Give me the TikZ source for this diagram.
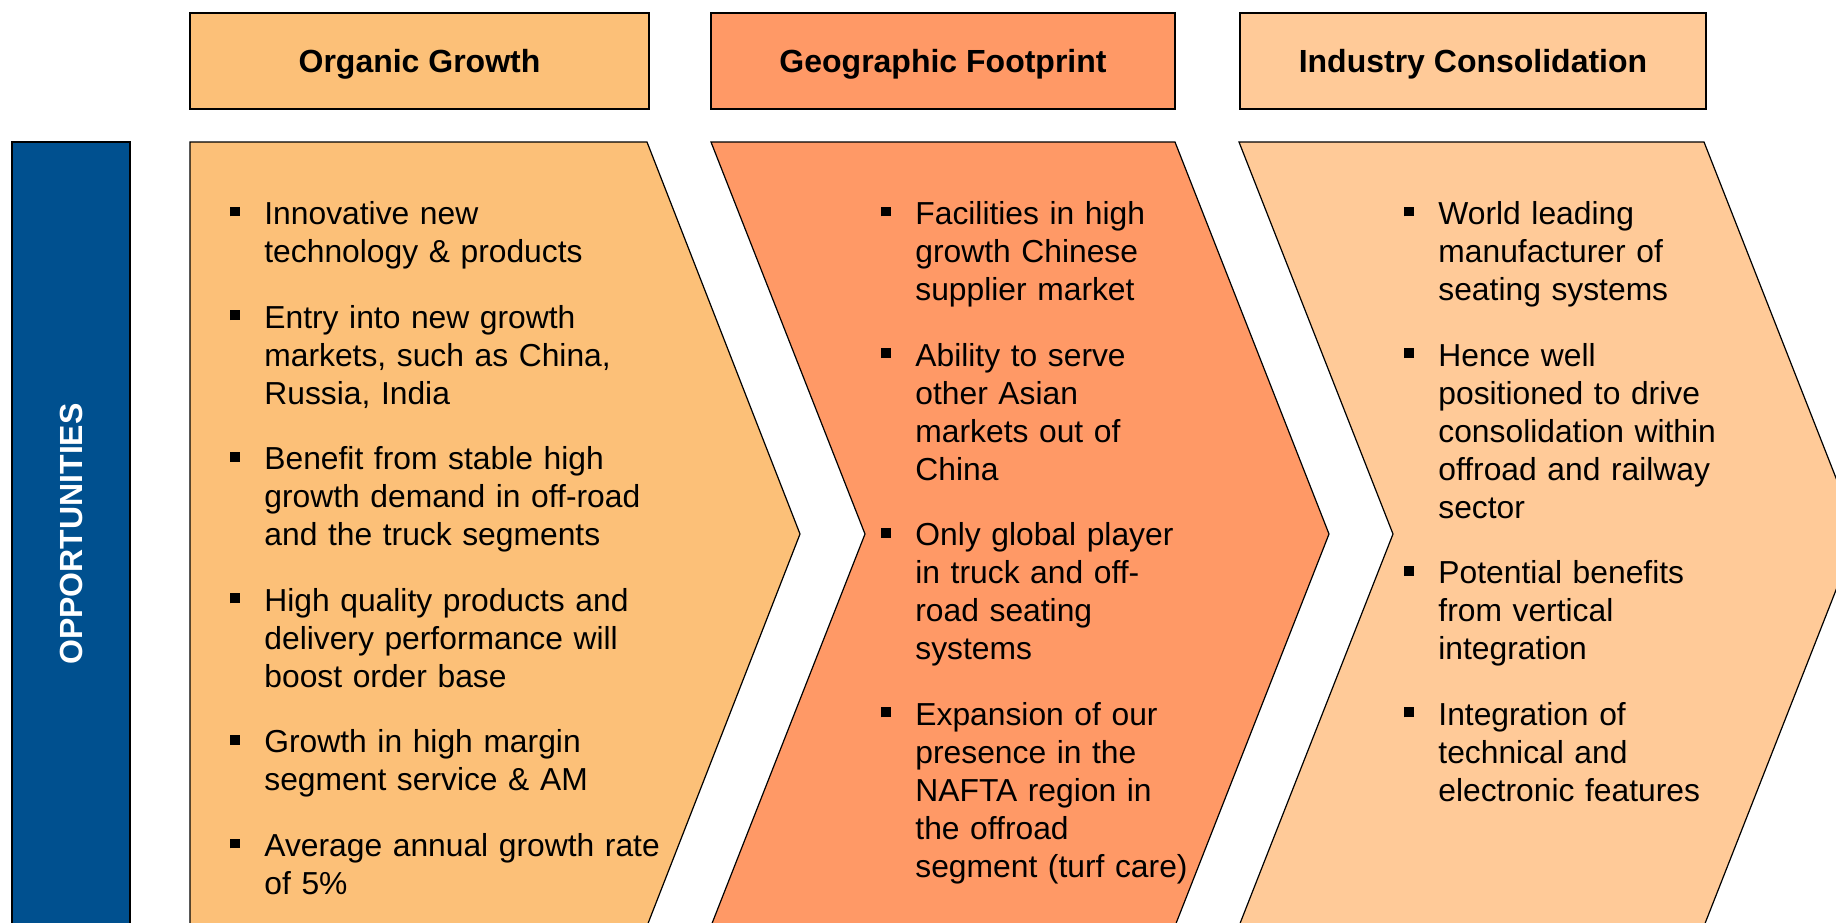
\documentclass[tikz,border=0pt]{standalone}
\usepackage{fontspec}
\setmainfont{Liberation Sans}
\usepackage{tikz}

\definecolor{oppblue}{RGB}{0,80,143}
\definecolor{organic}{RGB}{252,192,120}
\definecolor{footprint}{RGB}{255,153,102}
\definecolor{consol}{RGB}{255,202,152}

\newcommand{\sqbullet}{\rule[0.25em]{0.31em}{0.31em}}
\newenvironment{points}
	{\begin{list}{\sqbullet}{%
		\setlength{\leftmargin}{17pt}\setlength{\labelwidth}{17pt}%
		\setlength{\labelsep}{0pt}\setlength{\itemsep}{13.8pt}%
		\setlength{\parsep}{0pt}\setlength{\topsep}{0pt}\setlength{\partopsep}{0pt}%
		\renewcommand{\makelabel}[1]{##1\hfil}}}
	{\end{list}}

\begin{document}
\begin{tikzpicture}[x=0.5pt,y=-0.5pt,
	head/.style={shape=rectangle,draw=black,line width=0.8pt,minimum height=48pt,inner sep=0pt,text height=11.4pt,text depth=0pt,font=\fontsize{16}{19}\selectfont\bfseries},
	chevron/.style={draw=black,line width=0.6pt},
	bullets/.style={anchor=north west,inner sep=0pt,text width=240pt,align=left,font=\fontsize{15.9}{19}\selectfont}]

	\useasboundingbox (0,0) rectangle (1836,922);
	\clip (0,0) rectangle (1836,922);

	\node[head,fill=organic,minimum width=229.5pt]   (organic)   at (419.5, 61) {Organic Growth};
	\node[head,fill=footprint,minimum width=232pt]   (footprint) at (943, 61)   {Geographic Footprint};
	\node[head,fill=consol,minimum width=233pt]      (consol)    at (1473, 61)  {Industry Consolidation};

	\draw[chevron,fill=oppblue] (12,142) rectangle (130,960);
	\node[rotate=90,text=white,font=\fontsize{16}{19}\selectfont\bfseries] (opp) at (71,534) {OPPORTUNITIES};

	\draw[chevron,fill=organic]   (190,142) -- (647,142) -- (800,534) -- (647,926) -- (190,926) -- cycle;
	\draw[chevron,fill=footprint] (711,142) -- (1175,142) -- (1329,534) -- (1175,926) -- (711,926) -- (865,534) -- cycle;
	\draw[chevron,fill=consol]    (1239,142) -- (1704,142) -- (1858,534) -- (1704,926) -- (1239,926) -- (1393,534) -- cycle;

	\node[bullets] (organicpts) at (230,186) {\begin{points}
		\item Innovative new\\technology \& products
		\item Entry into new growth\\markets, such as China,\\Russia, India
		\item Benefit from stable high\\growth demand in off-road\\and the truck segments
		\item High quality products and\\delivery performance will\\boost order base
		\item Growth in high margin\\segment service \& AM
		\item Average annual growth rate\\of 5\%
	\end{points}};

	\node[bullets] (footprintpts) at (881,186) {\begin{points}
		\item Facilities in high\\growth Chinese\\supplier market
		\item Ability to serve\\other Asian\\markets out of\\China
		\item Only global player\\in truck and off-\\road seating\\systems
		\item Expansion of our\\presence in the\\NAFTA region in\\the offroad\\segment (turf care)
	\end{points}};

	\node[bullets] (consolpts) at (1404,186) {\begin{points}
		\item World leading\\manufacturer of\\seating systems
		\item Hence well\\positioned to drive\\consolidation within\\offroad and railway\\sector
		\item Potential benefits\\from vertical\\integration
		\item Integration of\\technical and\\electronic features
	\end{points}};
\end{tikzpicture}
\end{document}
